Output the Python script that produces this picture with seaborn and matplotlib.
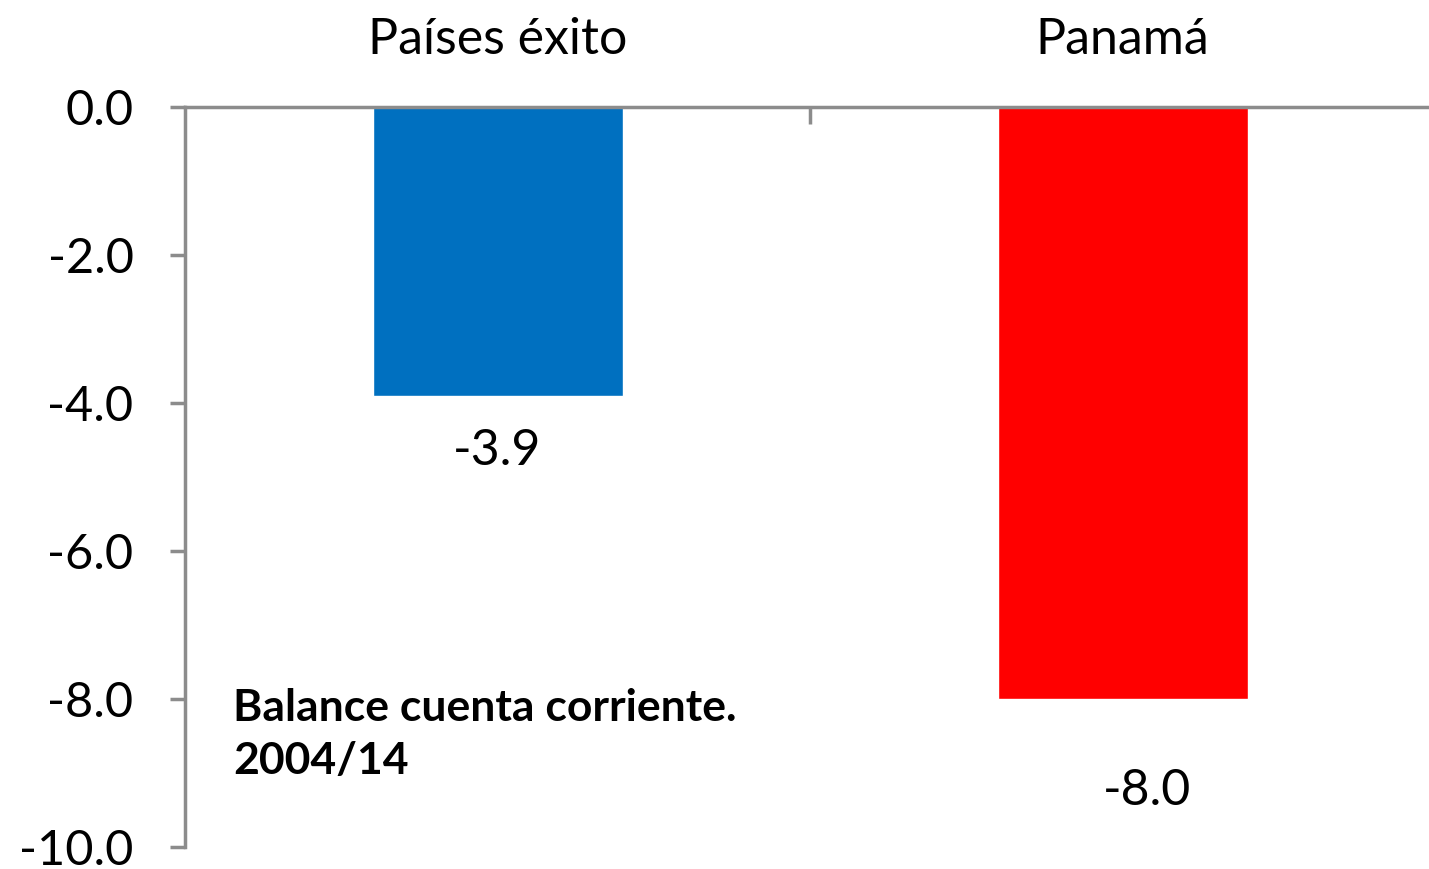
import matplotlib.pyplot as plt
import seaborn as sns
import pandas as pd

# Datos del gráfico
categorias = ['Países éxito', 'Panamá']
valores = [-3.9, -8.0]
colores = ['#0070C0', '#FF0000']
etiquetas = ['-3.9', '-8.0']
desfase_etiquetas = [(0, -40), (18, -66)]  # puntos respecto al final de la barra

sns.set_theme(style="white")
plt.rcParams['font.family'] = ['Lato', 'DejaVu Sans']

df = pd.DataFrame({'cat': categorias, 'val': valores})

fig = plt.figure(figsize=(14.29, 8.69), dpi=100)
ax = fig.add_axes([185 / 1429, 1 - 847 / 869, 1250 / 1429, 740 / 869])

sns.barplot(data=df, x='cat', y='val', hue='cat', palette=colores,
            width=0.4, saturation=1, legend=False, ax=ax)

ax.set_ylim(-10, 0)
ax.set_xlim(-0.5, 1.5)
ax.set_yticks([0, -2, -4, -6, -8, -10])
ax.set_yticklabels([f"{v:.1f}" for v in [0, -2, -4, -6, -8, -10]])
ax.set_xlabel('')
ax.set_ylabel('')

gris = '#8C8C8C'
for s in ['bottom', 'right']:
    ax.spines[s].set_visible(False)
for s in ['left', 'top']:
    ax.spines[s].set_color(gris)
    ax.spines[s].set_linewidth(2.5)

ax.xaxis.tick_top()
ax.set_xticks([0, 1])
ax.set_xticklabels(categorias)
ax.set_xticks([0.5], minor=True)
ax.tick_params(axis='x', which='major', top=True, length=0, labelsize=36, pad=32, colors='black')
ax.tick_params(axis='x', which='minor', top=True, length=12, width=2.5, direction='in', color=gris)
ax.tick_params(axis='y', which='major', left=True, length=11, width=2.5, direction='out', color=gris,
               labelsize=35, pad=26, labelcolor='black')

for i, (v, t, d) in enumerate(zip(valores, etiquetas, desfase_etiquetas)):
    ax.annotate(t, xy=(i, v), xytext=d, textcoords='offset points',
                ha='center', va='center', fontsize=36, color='black')

ax.text(233 / 1429, 1 - 688 / 869, "Balance cuenta corriente.\n2004/14",
        transform=fig.transFigure, ha='left', va='top', fontsize=32,
        fontweight='bold', linespacing=1.4, color='black')

fig.savefig('out.png', dpi=100)
